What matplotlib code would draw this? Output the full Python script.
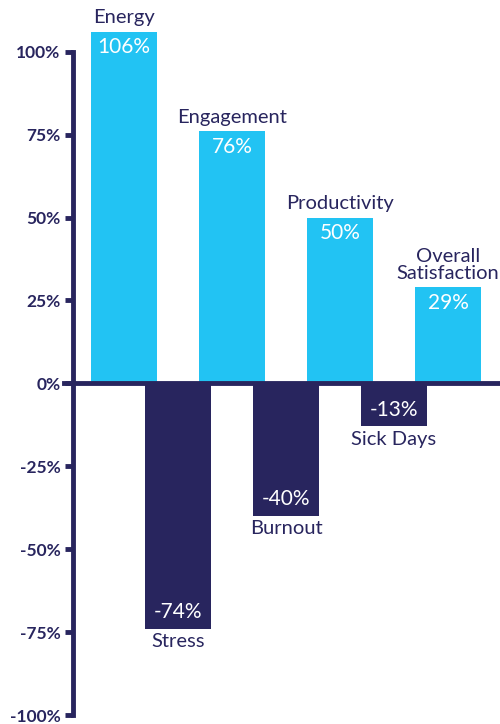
import numpy as np
import matplotlib.pyplot as plt

categories = ["Energy", "Stress", "Engagement", "Burnout", "Productivity", "Sick Days", "Overall\nSatisfaction"]
values = [106, -74, 76, -40, 50, -13, 29]
tick_values = [100, 75, 50, 25, 0, -25, -50, -75, -100]
tick_labels = ["100%", "75%", "50%", "25%", "0%", "-25%", "-50%", "-75%", "-100%"]

navy = "#28255e"
blue = "#22c3f3"

plt.rcParams['font.family'] = ['Lato', 'DejaVu Sans']

fig = plt.figure(figsize=(5, 7.24), dpi=100)
ax = fig.add_axes([0.146, 0.0124, 0.854, 0.962])

x = np.arange(len(values))
colors = [blue if v > 0 else navy for v in values]
ax.bar(x, values, width=1.22, color=colors, zorder=2)

for xi, v, name in zip(x, values, categories):
    if v > 0:
        ax.annotate(name, (xi, v), xytext=(0, 4), textcoords="offset points",
                    ha="center", va="bottom", fontsize=14.5, color=navy, linespacing=1.0)
        ax.annotate(f"{v}%", (xi, v), xytext=(0, -4), textcoords="offset points",
                    ha="center", va="top", fontsize=15, color="white")
    else:
        ax.annotate(name, (xi, v), xytext=(0, -3), textcoords="offset points",
                    ha="center", va="top", fontsize=14.5, color=navy)
        ax.annotate(f"{v}%", (xi, v), xytext=(0, 5), textcoords="offset points",
                    ha="center", va="bottom", fontsize=15, color="white")

ax.axhline(0, xmin=-0.02, color=navy, lw=3.5, zorder=3, clip_on=False)

ax.set_xlim(-0.94, 6.96)
ax.set_ylim(-100, 110)
ax.set_yticks(tick_values)
ax.set_yticklabels(tick_labels, fontweight="bold", fontsize=12.5, color=navy)
ax.set_xticks([])
ax.tick_params(axis="y", length=6, width=3.5, color=navy, pad=3)

for s in ["top", "right", "bottom"]:
    ax.spines[s].set_visible(False)
ax.spines["left"].set_color(navy)
ax.spines["left"].set_linewidth(3.5)
ax.spines["left"].set_bounds(-100, 100)

fig.savefig("out.png", dpi=100)
